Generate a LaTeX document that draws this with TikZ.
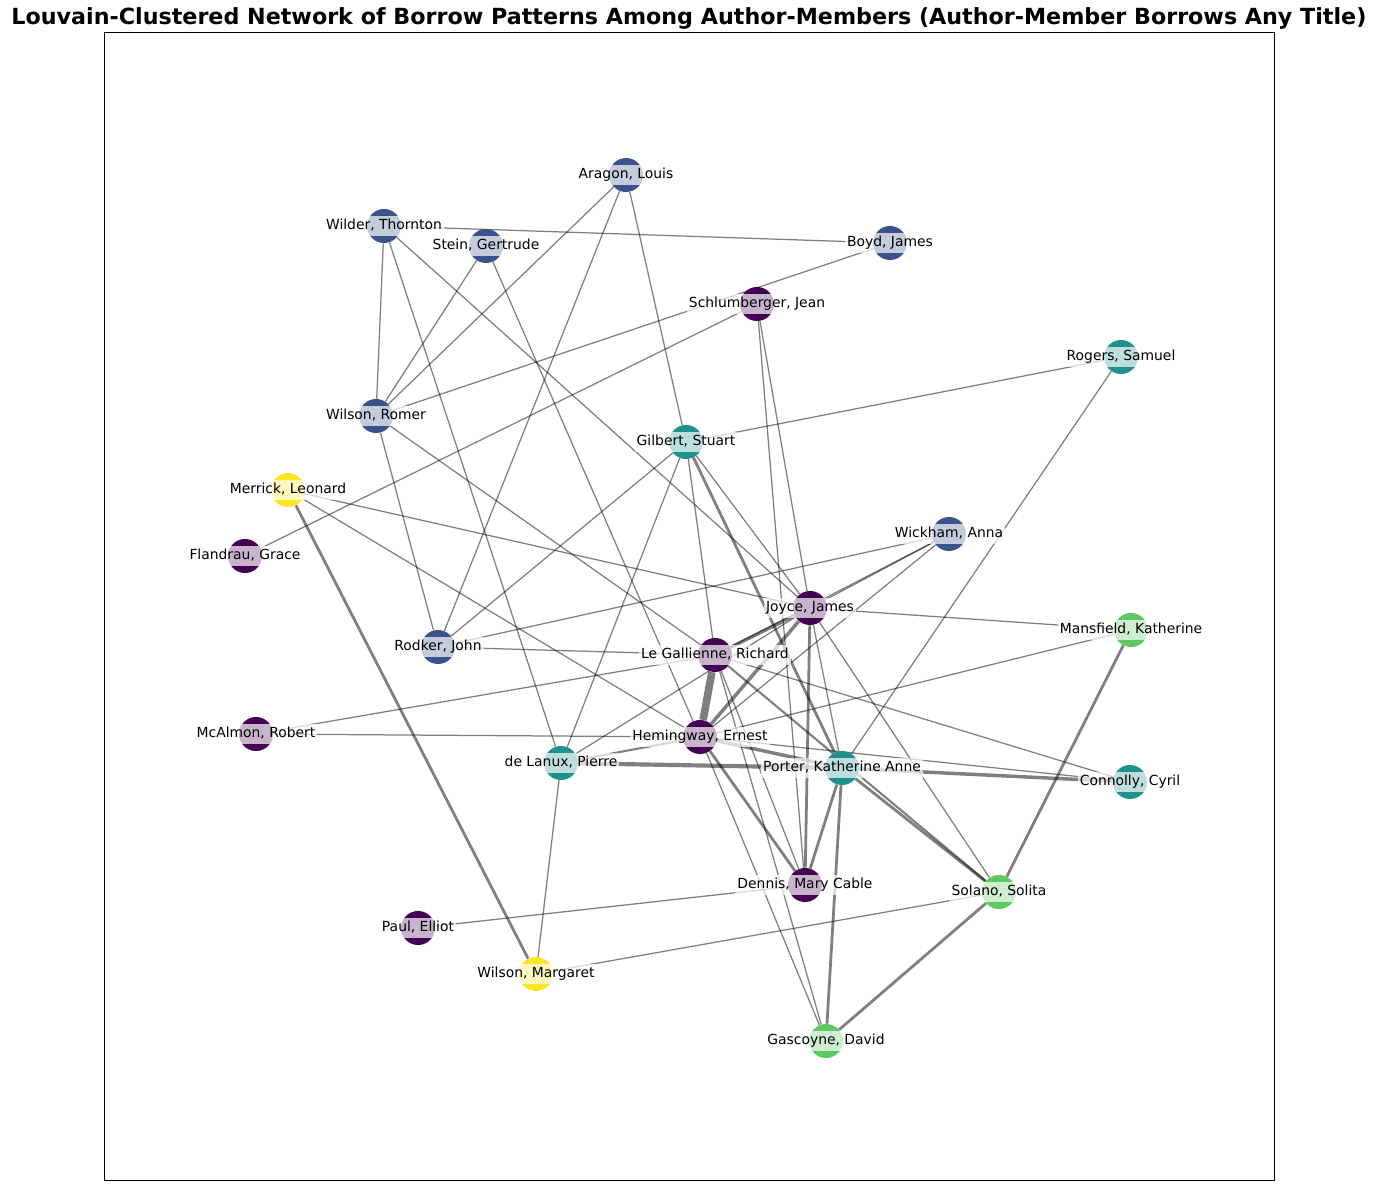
\documentclass[tikz,border=0pt]{standalone}
\usepackage{fontspec}
\setmainfont{DejaVu Sans}
\definecolor{cpurple}{HTML}{440154}
\definecolor{cblue}{HTML}{3B528B}
\definecolor{cteal}{HTML}{21918C}
\definecolor{cgreen}{HTML}{5EC962}
\definecolor{cyellow}{HTML}{FDE725}
\pgfdeclarelayer{background}
\pgfsetlayers{background,main}
\tikzset{
  vert/.style={circle, minimum size=24.5pt, inner sep=0pt, fill=#1},
  lab/.style={fill=white, fill opacity=0.7, text opacity=1, inner xsep=1.5pt, inner ysep=2.4pt,
    text height=7.6pt, text depth=2.4pt, font=\fontsize{10}{12}\selectfont},
  edge/.style={draw=black, draw opacity=0.5, line width=0.9pt},
  wB/.style={line width=2pt},
  wC/.style={line width=2.5pt},
  wD/.style={line width=3pt},
  wE/.style={line width=5.5pt},
  wM/.style={line width=1.5pt},
}
\begin{document}
\begin{tikzpicture}[x=0.72pt, y=-0.72pt]
\useasboundingbox (0,0) rectangle (1377,1190);
\draw[line width=0.6pt] (104,32) rectangle (1274,1180);
\node[font=\fontsize{16}{19}\selectfont\bfseries] (title) at (689,18) {Louvain-Clustered Network of Borrow Patterns Among Author-Members (Author-Member Borrows Any Title)};

% nodes
\node[vert=cblue] (aragon) at (626,175) {};
\node[vert=cblue] (wilder) at (384,226) {};
\node[vert=cblue] (stein) at (486,246) {};
\node[vert=cblue] (boyd) at (890,243) {};
\node[vert=cpurple] (schlum) at (757,304) {};
\node[vert=cteal] (rogers) at (1121,357) {};
\node[vert=cblue] (wilsonr) at (376,416) {};
\node[vert=cteal] (gilbert) at (686,442) {};
\node[vert=cyellow] (merrick) at (288,490) {};
\node[vert=cpurple] (flandrau) at (245,556) {};
\node[vert=cblue] (wickham) at (949,534) {};
\node[vert=cpurple] (joyce) at (810,608) {};
\node[vert=cgreen] (mansfield) at (1131,630) {};
\node[vert=cblue] (rodker) at (438,647) {};
\node[vert=cpurple] (legal) at (715,655) {};
\node[vert=cpurple] (mcalmon) at (256,734) {};
\node[vert=cpurple] (hemingway) at (700,737) {};
\node[vert=cteal] (delanux) at (561,763) {};
\node[vert=cteal] (porter) at (842,768) {};
\node[vert=cteal] (connolly) at (1130,782) {};
\node[vert=cpurple] (dennis) at (805,885) {};
\node[vert=cgreen] (solano) at (999,892) {};
\node[vert=cpurple] (paul) at (418,928) {};
\node[vert=cyellow] (wmargaret) at (536,974) {};
\node[vert=cgreen] (gascoyne) at (826,1041) {};

% edges
\begin{pgfonlayer}{background}
\draw[edge] (wilder) -- (boyd);
\draw[edge] (wilder) -- (wilsonr);
\draw[edge] (wilder) -- (delanux);
\draw[edge] (wilder) -- (joyce);
\draw[edge] (stein) -- (wilsonr);
\draw[edge] (stein) -- (hemingway);
\draw[edge] (aragon) -- (wilsonr);
\draw[edge] (aragon) -- (rodker);
\draw[edge] (aragon) -- (gilbert);
\draw[edge] (wilsonr) -- (boyd);
\draw[edge] (schlum) -- (flandrau);
\draw[edge] (schlum) -- (joyce);
\draw[edge] (schlum) -- (dennis);
\draw[edge] (rogers) -- (gilbert);
\draw[edge] (rogers) -- (porter);
\draw[edge] (wilsonr) -- (rodker);
\draw[edge] (wilsonr) -- (legal);
\draw[edge] (gilbert) -- (rodker);
\draw[edge] (gilbert) -- (delanux);
\draw[edge] (gilbert) -- (legal);
\draw[edge] (gilbert) -- (joyce);
\draw[edge] (merrick) -- (joyce);
\draw[edge] (merrick) -- (hemingway);
\draw[edge] (wickham) -- (rodker);
\draw[edge] (wickham) -- (legal);
\draw[edge] (wickham) -- (hemingway);
\draw[edge] (wickham) -- (joyce);
\draw[edge] (joyce) -- (mansfield);
\draw[edge] (joyce) -- (porter);
\draw[edge] (joyce) -- (solano);
\draw[edge] (joyce) -- (delanux);
\draw[edge] (rodker) -- (legal);
\draw[edge] (legal) -- (mcalmon);
\draw[edge] (legal) -- (connolly);
\draw[edge] (legal) -- (gascoyne);
\draw[edge] (legal) -- (dennis);
\draw[edge] (mcalmon) -- (hemingway);
\draw[edge] (hemingway) -- (mansfield);
\draw[edge] (hemingway) -- (gascoyne);
\draw[edge] (hemingway) -- (connolly);
\draw[edge] (delanux) -- (wmargaret);
\draw[edge] (solano) -- (wmargaret);
\draw[edge] (dennis) -- (paul);
% heavier edges
\draw[edge,wE] (legal) -- (hemingway);
\draw[edge,wC] (joyce) -- (legal);
\draw[edge,wC] (joyce) -- (hemingway);
\draw[edge,wB] (joyce) -- (dennis);
\draw[edge,wC] (hemingway) -- (porter);
\draw[edge,wM] (hemingway) -- (delanux);
\draw[edge,wD] (delanux) -- (porter);
\draw[edge,wC] (porter) -- (connolly);
\draw[edge,wB] (gilbert) -- (porter);
\draw[edge,wB] (porter) -- (solano);
\draw[edge,wM] (legal) -- (solano);
\draw[edge,wB] (hemingway) -- (dennis);
\draw[edge,wB] (porter) -- (dennis);
\draw[edge,wB] (porter) -- (gascoyne);
\draw[edge,wB] (solano) -- (gascoyne);
\draw[edge,wB] (mansfield) -- (solano);
\draw[edge,wB] (merrick) -- (wmargaret);
\end{pgfonlayer}

% labels
\node[lab] (aragon-l) at (aragon) {Aragon, Louis};
\node[lab] (wilder-l) at (wilder) {Wilder, Thornton};
\node[lab] (stein-l) at (stein) {Stein, Gertrude};
\node[lab] (boyd-l) at (boyd) {Boyd, James};
\node[lab] (schlum-l) at (schlum) {Schlumberger, Jean};
\node[lab] (rogers-l) at (rogers) {Rogers, Samuel};
\node[lab] (wilsonr-l) at (wilsonr) {Wilson, Romer};
\node[lab] (gilbert-l) at (gilbert) {Gilbert, Stuart};
\node[lab] (merrick-l) at (merrick) {Merrick, Leonard};
\node[lab] (flandrau-l) at (flandrau) {Flandrau, Grace};
\node[lab] (wickham-l) at (wickham) {Wickham, Anna};
\node[lab] (joyce-l) at (joyce) {Joyce, James};
\node[lab] (mansfield-l) at (mansfield) {Mansfield, Katherine};
\node[lab] (rodker-l) at (rodker) {Rodker, John};
\node[lab] (legal-l) at (legal) {Le Gallienne, Richard};
\node[lab] (mcalmon-l) at (mcalmon) {McAlmon, Robert};
\node[lab] (hemingway-l) at (hemingway) {Hemingway, Ernest};
\node[lab] (delanux-l) at (delanux) {de Lanux, Pierre};
\node[lab] (porter-l) at (porter) {Porter, Katherine Anne};
\node[lab] (connolly-l) at (connolly) {Connolly, Cyril};
\node[lab] (dennis-l) at (dennis) {Dennis, Mary Cable};
\node[lab] (solano-l) at (solano) {Solano, Solita};
\node[lab] (paul-l) at (paul) {Paul, Elliot};
\node[lab] (wmargaret-l) at (wmargaret) {Wilson, Margaret};
\node[lab] (gascoyne-l) at (gascoyne) {Gascoyne, David};
\end{tikzpicture}
\end{document}
